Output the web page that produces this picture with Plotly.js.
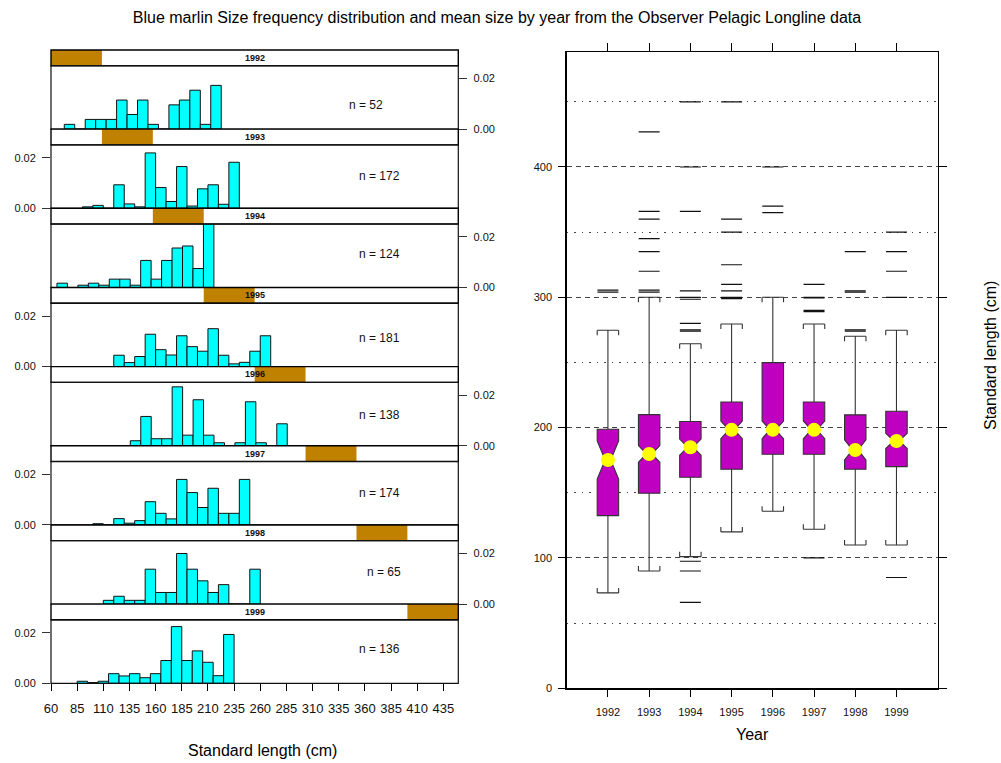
<!DOCTYPE html>
<html><head><meta charset="utf-8">
<script src="https://cdn.plot.ly/plotly-3.0.1.min.js"></script>
<style>html,body{margin:0;padding:0;background:#fff;} #chart{width:1001px;height:763px;}</style>
</head><body><div id="chart"></div>
<script>
// ---------------- data ----------------
const years = [1992, 1993, 1994, 1995, 1996, 1997, 1998, 1999];
const nFish = [52, 172, 124, 181, 138, 174, 65, 136];
const binStart = [72.7, 90, 65.7, 120, 135.8, 100, 110, 85];
const binWidth = 10;

const dens1992 = [0.0019, 0, 0.00385, 0.00385, 0.00385, 0.0115, 0.0058, 0.0115, 0.0019, 0, 0.0096, 0.0115, 0.0154, 0.0019, 0.0173];
const dens1993 = [0.00058, 0.00116, 0, 0.0093, 0.00174, 0.00058, 0.0219, 0.0082, 0.0027, 0.0165, 0.0009, 0.0077, 0.0093, 0.0016, 0.0182];
const dens1994 = [0.0017, 0, 0.0009, 0.0017, 0.0009, 0.0033, 0.0033, 0.0009, 0.0107, 0.0033, 0.0107, 0.0156, 0.0164, 0.0075, 0.029];
const dens1995 = [0.0045, 0.0016, 0.0040, 0.0128, 0.0067, 0.0046, 0.0122, 0.0079, 0.0061, 0.0150, 0.0045, 0.0011, 0.0017, 0.0061, 0.0122];
const dens1996 = [0.0020, 0.0116, 0.0028, 0.0028, 0.0233, 0.0042, 0.0182, 0.0042, 0.0012, 0, 0.0012, 0.0174, 0.0012, 0, 0.0087];
const dens1997 = [0.0005, 0, 0.0025, 0.0007, 0.0017, 0.0092, 0.0046, 0.0024, 0.0180, 0.0128, 0.0069, 0.0145, 0.0046, 0.0046, 0.0180];
const dens1998 = [0.0015, 0.0031, 0.0015, 0.0015, 0.0138, 0.0046, 0.0046, 0.0200, 0.0138, 0.0092, 0.0046, 0.0077, 0, 0, 0.0138];
const dens1999 = [0.0008, 0.0003, 0.0008, 0.0038, 0.0029, 0.0038, 0.0022, 0.0038, 0.0090, 0.0224, 0.0090, 0.0128, 0.0083, 0.0030, 0.0193];
const densByYear = [dens1992, dens1993, dens1994, dens1995, dens1996, dens1997, dens1998, dens1999];

const boxQ1 = [132.5, 149.7, 161.9, 168.1, 179.6, 179.6, 168.1, 170.1];
const boxMedian = [175.2, 179.8, 185.0, 198.3, 198.3, 198.3, 182.9, 189.8];
const boxQ3 = [198.8, 210.0, 204.7, 219.7, 249.9, 219.7, 209.8, 212.6];
const boxLower = [73.2, 90.0, 101, 120.0, 135.8, 122.0, 110.0, 110.0];
const boxUpper = [274.7, 300, 264.4, 279.5, 300, 279.5, 270.1, 274.7];
const boxNotch = [14.6, 6.4, 6.2, 6.7, 6.7, 6.7, 7.7, 5.8];

const outYear = [1992, 1992,
  1993, 1993, 1993, 1993, 1993, 1993, 1993, 1993,
  1994, 1994, 1994, 1994, 1994, 1994, 1994, 1994, 1994, 1994, 1994, 1994,
  1995, 1995, 1995, 1995, 1995, 1995, 1995, 1995,
  1996, 1996, 1996,
  1997, 1997, 1997, 1997, 1997, 1997,
  1998, 1998, 1998, 1998, 1998,
  1999, 1999, 1999, 1999, 1999];
const outValue = [304, 305.5,
  427, 366, 360, 345, 335, 320, 304, 305.5,
  450, 400, 366, 305, 300, 298.5, 280, 275, 274, 97.5, 90, 66,
  450, 360, 350, 325, 310, 305, 300, 299,
  400, 370, 365,
  310, 300, 299.5, 290, 289, 100,
  335, 305, 304, 275, 274,
  350, 335, 320, 300, 85];

const histTicks = [60, 85, 110, 135, 160, 185, 210, 235, 260, 285, 310, 335, 360, 385, 410, 435];
const densTicks = [0, 0.02];
const densTickText = ['0.00', '0.02'];
const boxYTicks = [0, 100, 200, 300, 400];
const boxMinorTicks = [50, 150, 250, 350, 450];

// ---------------- layout geometry (pixels) ----------------
const W = 1001, H = 763;
const px = v => v / W, py = v => 1 - v / H;
const TOP = 50, BLOCK = 79.16, STRIP = 15.7;
const LX0 = 51, LX1 = 458.3;
const RX0 = 566.7, RX1 = 937.7, RY0 = 52.3, RY1 = 688.3;
const nLabelX = [361, 374.4, 374.4, 373.5, 374.4, 374.4, 378.3, 374.4];
const nLabelY = [0.0096, 0.0129, 0.0132, 0.0112, 0.012, 0.0126, 0.0126, 0.0136];
const FONT = 'Liberation Sans, Arial, Helvetica, sans-serif';
const yId = i => i === 0 ? 'y' : 'y' + (i + 1);
const yKey = i => i === 0 ? 'yaxis' : 'yaxis' + (i + 1);

const traces = [];
const layout = {
  width: W, height: H,
  margin: {l: 0, r: 0, t: 0, b: 0},
  paper_bgcolor: '#fff', plot_bgcolor: '#fff',
  font: {family: FONT, color: '#111'},
  showlegend: false,
  bargap: 0, boxgap: 0, boxgroupgap: 0,
  title: {text: 'Blue marlin Size frequency distribution and mean size by year from the Observer Pelagic Longline data',
    x: 497 / W, xref: 'container', xanchor: 'center', y: py(17), yref: 'container', yanchor: 'middle',
    font: {size: 16, family: FONT, color: '#000'}},
  xaxis: {domain: [px(LX0), px(LX1)], range: [60, 449.3], anchor: 'y8', tickmode: 'array', tickvals: histTicks,
    ticks: 'outside', ticklen: 7, tickcolor: '#000', tickfont: {size: 13, color: '#111'}, showgrid: false,
    zeroline: false, showline: false, ticklabelstandoff: 6},
  xaxis2: {domain: [px(RX0), px(RX1)], range: [1991, 2000], anchor: 'y9', tickmode: 'array', tickvals: years,
    ticks: 'outside', ticklen: 7, tickcolor: '#000', showline: true, mirror: true, linecolor: '#000', linewidth: 1.5,
    showgrid: false, zeroline: false, tickfont: {size: 11, color: '#111'}, ticklabelstandoff: 6},
  xaxis3: {overlaying: 'x2', side: 'top', anchor: 'y10', range: [1991, 2000], tickmode: 'array', tickvals: years,
    ticks: 'outside', ticklen: 8, tickcolor: '#000', showticklabels: false, showline: false, showgrid: false, zeroline: false},
  yaxis9: {domain: [py(RY1), py(RY0)], range: [0, 488], anchor: 'x2', tickmode: 'array', tickvals: boxYTicks,
    ticks: 'outside', ticklen: 7, tickcolor: '#000', showline: true, mirror: true, linecolor: '#000', linewidth: 1.5,
    showgrid: true, gridcolor: '#444', gridwidth: 1, griddash: '5px,4px', zeroline: false,
    tickfont: {size: 11, color: '#111'}, ticklabelstandoff: 4,
    minor: {tickmode: 'array', tickvals: boxMinorTicks, showgrid: true, gridcolor: '#444', gridwidth: 1, griddash: '1.5px,6px', ticks: ''}},
  yaxis10: {overlaying: 'y9', side: 'right', anchor: 'x3', range: [0, 488], tickmode: 'array', tickvals: boxYTicks,
    ticks: 'outside', ticklen: 8, tickcolor: '#000', showticklabels: false, showline: false, showgrid: false, zeroline: false},
  shapes: [], annotations: []
};

for (let i = 0; i < years.length; i++) {
  const stripTop = TOP + i * BLOCK, stripBot = stripTop + STRIP, panelBot = stripTop + BLOCK;
  const dens = densByYear[i];
  traces.push({type: 'bar', x: dens.map((d, k) => binStart[i] + binWidth * (k + 0.5)), y: dens, width: binWidth,
    marker: {color: '#00FFFF', line: {color: '#111', width: 1}}, xaxis: 'x', yaxis: yId(i), hoverinfo: 'skip'});
  layout[yKey(i)] = {domain: [py(panelBot), py(stripBot)], range: [0, 0.02508], anchor: 'x',
    side: i % 2 === 0 ? 'right' : 'left', tickmode: 'array', tickvals: densTicks, ticktext: densTickText,
    ticks: 'outside', ticklen: 8, tickcolor: '#333', tickfont: {size: 11, color: '#111'}, showgrid: false,
    zeroline: false, showline: false, ticklabelstandoff: 4};
  // strip
  layout.shapes.push({type: 'rect', xref: 'paper', yref: 'paper', x0: px(LX0), x1: px(LX1), y0: py(stripBot), y1: py(stripTop),
    fillcolor: '#fff', line: {width: 0}, layer: 'above'});
  const f0 = LX0 + (LX1 - LX0) * i / 8, f1 = LX0 + (LX1 - LX0) * (i + 1) / 8;
  layout.shapes.push({type: 'rect', xref: 'paper', yref: 'paper', x0: px(f0), x1: px(f1), y0: py(stripBot), y1: py(stripTop),
    fillcolor: '#C08000', line: {width: 0}, layer: 'above'});
  layout.shapes.push({type: 'rect', xref: 'paper', yref: 'paper', x0: px(LX0), x1: px(LX1), y0: py(stripBot), y1: py(stripTop),
    fillcolor: 'rgba(0,0,0,0)', line: {color: '#000', width: 1.4}, layer: 'above'});
  layout.shapes.push({type: 'rect', xref: 'paper', yref: 'paper', x0: px(LX0), x1: px(LX1), y0: py(panelBot), y1: py(stripBot),
    fillcolor: 'rgba(0,0,0,0)', line: {color: '#111', width: 1.2}, layer: 'above'});
  layout.annotations.push({xref: 'paper', yref: 'paper', x: px((LX0 + LX1) / 2), y: py((stripTop + stripBot) / 2),
    text: '<b>' + years[i] + '</b>', showarrow: false, font: {size: 9, color: '#111'}, xanchor: 'center', yanchor: 'middle'});
  layout.annotations.push({xref: 'x', yref: yId(i), x: nLabelX[i], y: nLabelY[i], text: 'n = ' + nFish[i],
    showarrow: false, font: {size: 12, color: '#111'}, xanchor: 'center', yanchor: 'middle'});
}

// box plot
traces.push({type: 'box', x: years, q1: boxQ1, median: boxMedian, q3: boxQ3, lowerfence: boxLower, upperfence: boxUpper,
  notchspan: boxNotch, notched: true, notchwidth: 0.37, width: 0.52, whiskerwidth: 1, boxpoints: false,
  fillcolor: '#C000C0', line: {color: '#333', width: 1.1}, xaxis: 'x2', yaxis: 'y9', hoverinfo: 'skip'});
// cap end ticks
const capX = [], capY = [];
const half = 0.26, capTick = 3.8;
years.forEach((yr, i) => {
  [-half, half].forEach(o => {
    capX.push(yr + o, yr + o, null); capY.push(boxUpper[i] - capTick, boxUpper[i], null);
    capX.push(yr + o, yr + o, null); capY.push(boxLower[i] + capTick, boxLower[i], null);
  });
});
traces.push({type: 'scatter', mode: 'lines', x: capX, y: capY, line: {color: '#333', width: 1.1}, xaxis: 'x2', yaxis: 'y9', hoverinfo: 'skip'});
traces.push({type: 'scatter', mode: 'markers', x: outYear, y: outValue,
  marker: {symbol: 'line-ew', size: 15, color: '#111', line: {color: '#111', width: 1.2}}, xaxis: 'x2', yaxis: 'y9', hoverinfo: 'skip'});
traces.push({type: 'scatter', mode: 'markers', x: years, y: boxMedian,
  marker: {symbol: 'circle', size: 14, color: '#FFFF00', line: {width: 0}}, xaxis: 'x2', yaxis: 'y9', hoverinfo: 'skip'});
// carrier for the mirrored tick axes
traces.push({type: 'scatter', mode: 'markers', x: [null], y: [null], xaxis: 'x3', yaxis: 'y10', hoverinfo: 'skip'});

// axis titles
layout.annotations.push({xref: 'paper', yref: 'paper', x: px(262), y: py(750), text: 'Standard length (cm)', showarrow: false,
  font: {size: 16, color: '#000'}, xanchor: 'center', yanchor: 'middle'});
layout.annotations.push({xref: 'paper', yref: 'paper', x: px(752), y: py(734), text: 'Year', showarrow: false,
  font: {size: 16, color: '#000'}, xanchor: 'center', yanchor: 'middle'});
layout.annotations.push({xref: 'paper', yref: 'paper', x: px(990), y: py(356), text: 'Standard length (cm)', showarrow: false,
  textangle: -90, font: {size: 16, color: '#000'}, xanchor: 'center', yanchor: 'middle'});

Plotly.newPlot('chart', traces, layout, {displayModeBar: false, staticPlot: true});
</script>
</body></html>
